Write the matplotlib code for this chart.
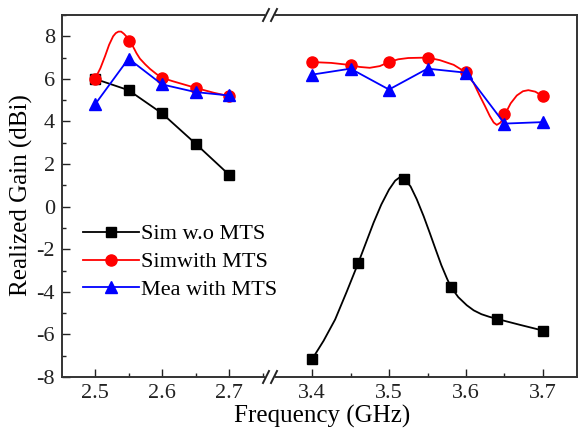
import numpy as np
import matplotlib.pyplot as plt
from matplotlib.lines import Line2D
from matplotlib.ticker import MultipleLocator

plt.rcParams['font.family'] = ['Liberation Serif', 'DejaVu Serif']

# marker points, low band
freq_lo = [2.5, 2.55, 2.6, 2.65, 2.7]
sim_wo_lo = [6.0, 5.47, 4.38, 2.96, 1.5]
sim_mts_lo = [6.0, 7.8, 6.05, 5.58, 5.19]
mea_mts_lo = [4.8, 6.95, 5.74, 5.38, 5.22]

# marker points, high band
freq_hi = [3.4, 3.45, 3.5, 3.55, 3.6, 3.65, 3.7]
sim_mts_hi = [6.79, 6.65, 6.79, 7.0, 6.3, 4.36, 5.18]
mea_mts_hi = [6.2, 6.48, 5.5, 6.48, 6.29, 3.9, 3.97]
freq_wo_hi = [3.4, 3.46, 3.52, 3.58, 3.64, 3.7]
sim_wo_hi = [-7.17, -2.65, 1.3, -3.75, -5.27, -5.82]

# smooth curves
red_lo_f = [2.5, 2.508, 2.515, 2.521, 2.527, 2.531, 2.535, 2.539, 2.543, 2.548, 2.552,
            2.557, 2.562, 2.567, 2.575, 2.582, 2.592, 2.6, 2.615, 2.627, 2.65, 2.677, 2.7]
red_lo_g = [6.0, 6.5, 7.07, 7.6, 8.0, 8.15, 8.22, 8.22, 8.12, 7.95, 7.78,
            7.5, 7.2, 6.95, 6.68, 6.47, 6.22, 6.05, 5.9, 5.79, 5.58, 5.35, 5.19]
red_hi_f = [3.4, 3.425, 3.45, 3.462, 3.475, 3.488, 3.5, 3.512, 3.525, 3.55, 3.566, 3.584,
            3.6, 3.61, 3.618, 3.625, 3.631, 3.636, 3.64, 3.645, 3.651, 3.658, 3.666,
            3.674, 3.681, 3.69, 3.7]
red_hi_g = [6.79, 6.75, 6.65, 6.56, 6.52, 6.6, 6.79, 6.92, 6.98, 7.0, 6.88, 6.66,
            6.3, 5.8, 5.2, 4.7, 4.25, 3.95, 3.84, 3.95, 4.36, 4.85, 5.22,
            5.42, 5.47, 5.4, 5.18]
blk_hi_f = [3.4, 3.415, 3.43, 3.445, 3.46, 3.47, 3.48, 3.49, 3.5, 3.508, 3.514, 3.52,
            3.528, 3.536, 3.545, 3.553, 3.56, 3.568, 3.575, 3.58, 3.59, 3.601, 3.61,
            3.62, 3.63, 3.64, 3.67, 3.7]
blk_hi_g = [-7.17, -6.3, -5.3, -4.0, -2.65, -1.7, -0.75, 0.1, 0.8, 1.22, 1.38, 1.3,
            0.95, 0.35, -0.45, -1.24, -1.95, -2.75, -3.35, -3.75, -4.25, -4.63, -4.87,
            -5.05, -5.17, -5.27, -5.55, -5.82]

fig = plt.figure(figsize=(5.81, 4.28), dpi=100)
W, H = 581, 428
ax1 = fig.add_axes([62 / W, 1 - 377 / H, (264 - 62) / W, (377 - 15) / H])
ax2 = fig.add_axes([276 / W, 1 - 377 / H, (577 - 276) / W, (377 - 15) / H])
ax2.patch.set_alpha(0)

lw = 1.3
ms = dict(black=6.5, red=8, blue=9)

ax1.plot(freq_lo, sim_wo_lo, color='black', lw=lw, marker='s', ms=ms['black'])
ax1.plot(red_lo_f, red_lo_g, color='red', lw=lw)
ax1.plot(freq_lo, sim_mts_lo, color='red', ls='none', marker='o', ms=ms['red'])
ax1.plot(freq_lo, mea_mts_lo, color='blue', lw=lw, marker='^', ms=ms['blue'])

ax2.plot(blk_hi_f, blk_hi_g, color='black', lw=lw)
ax2.plot(freq_wo_hi, sim_wo_hi, color='black', ls='none', marker='s', ms=ms['black'])
ax2.plot(red_hi_f, red_hi_g, color='red', lw=lw)
ax2.plot(freq_hi, sim_mts_hi, color='red', ls='none', marker='o', ms=ms['red'])
ax2.plot(freq_hi, mea_mts_hi, color='blue', lw=lw, marker='^', ms=ms['blue'])

ax1.set_xlim(2.4507, 2.7522)
ax2.set_xlim(3.3532, 3.7442)
for ax in (ax1, ax2):
    ax.set_ylim(-8, 9)
    ax.xaxis.set_major_locator(MultipleLocator(0.1))
    ax.xaxis.set_minor_locator(MultipleLocator(0.05))
    ax.yaxis.set_major_locator(MultipleLocator(2))
    ax.yaxis.set_minor_locator(MultipleLocator(1))
    ax.tick_params(which='both', direction='in', top=False, right=False, labelsize=16,
                   colors='#222222', width=1)
    ax.tick_params(which='major', length=6, pad=5)
    ax.tick_params(which='minor', length=3)
    for s in ax.spines.values():
        s.set_linewidth(1.4)
        s.set_color('#333333')
    ax.set_xticklabels([f'{t:.1f}' for t in ax.get_xticks()])

ax1.spines['right'].set_visible(False)
ax2.spines['left'].set_visible(False)
ax2.tick_params(which='both', left=False, labelleft=False)
ax1.set_yticklabels([f'{int(t)}' for t in ax1.get_yticks()])

# break marks on top and bottom spines
for y0 in (15, 377):
    for dx in (-4, 4):
        xc = 270 + dx
        fig.add_artist(Line2D([(xc - 3) / W, (xc + 3) / W],
                              [1 - (y0 + 6) / H, 1 - (y0 - 6) / H],
                              color='#222222', lw=1.4))

fig.text(21 / W, 1 - 195 / H, 'Realized Gain (dBi)', rotation=90, fontsize=18,
         ha='center', va='center')
fig.text(322 / W, 1 - 405 / H, 'Frequency (GHz)', fontsize=18, ha='center', va='top')

handles = [
    Line2D([], [], color='black', lw=lw, marker='s', ms=ms['black']),
    Line2D([], [], color='red', lw=lw, marker='o', ms=ms['red']),
    Line2D([], [], color='blue', lw=lw, marker='^', ms=ms['blue']),
]
labels = ['Sim w.o MTS', 'Simwith MTS', 'Mea with MTS']
fig.legend(handles, labels, loc='center left', bbox_to_anchor=(83 / W, 1 - 262 / H),
           frameon=False, fontsize=16, borderpad=0, borderaxespad=0,
           handlelength=2.5, handletextpad=0.1, labelspacing=0.33)

fig.savefig('out.png', dpi=100)
